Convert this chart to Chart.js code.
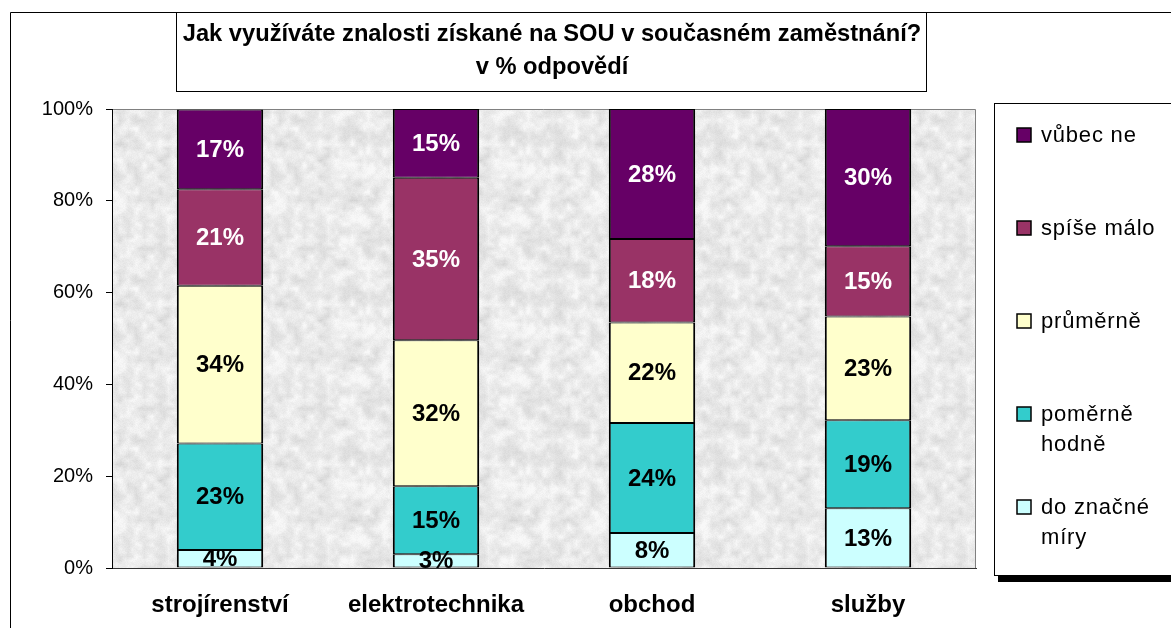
<!DOCTYPE html>
<html>
<head>
<meta charset="utf-8">
<script src="https://cdn.jsdelivr.net/npm/chart.js@4/dist/chart.umd.min.js"></script>
<style>
  body { margin: 0; background: #fff; }
  canvas { display: block; }
</style>
</head>
<body>
<canvas id="myChart" width="1171" height="628"></canvas>
<script>
// data (segment shares in %)
let categories = ['strojírenství', 'elektrotechnika', 'obchod', 'služby'];
let doZnacneMiry = [3.9, 3.0, 7.6, 13.0];
let pomerneHodne = [23.2, 14.8, 24.0, 19.2];
let prumerne = [34.4, 31.8, 21.9, 22.6];
let spiseMalo = [21.0, 35.4, 18.2, 15.3];
let vubecNe = [17.4, 15.0, 28.3, 29.9];
let yTicks = [0, 20, 40, 60, 80, 100];
let titleLines = ['Jak využíváte znalosti získané na SOU v současném zaměstnání?', 'v % odpovědí'];

let FONT = '"Liberation Sans", Arial, sans-serif';

// granite-ish texture for the plot area
let makeTexture = () => {
    let n = 160;
    let c = document.createElement('canvas');
    c.width = n; c.height = n;
    let g = c.getContext('2d');
    let img = g.createImageData(n, n);
    let h = (x, y) => {
        let s = Math.sin(x * 127.1 + y * 311.7) * 43758.5453;
        return s - Math.floor(s);
    };
    let vnoise = (x, y, cell) => {
        let m = n / cell;
        let cx = Math.floor(x / cell), cy = Math.floor(y / cell);
        let fx = (x % cell) / cell, fy = (y % cell) / cell;
        let a = h(cx % m, cy % m), b = h((cx + 1) % m, cy % m);
        let c2 = h(cx % m, (cy + 1) % m), d = h((cx + 1) % m, (cy + 1) % m);
        let top = a + (b - a) * fx, bot = c2 + (d - c2) * fx;
        return top + (bot - top) * fy;
    };
    for (let y = 0; y < n; y++) {
        for (let x = 0; x < n; x++) {
            let v = 0.55 * vnoise(x, y, 8) + 0.3 * vnoise(x, y, 4) + 0.15 * h(x, y);
            let gray = Math.round(208 + v * 52);
            if (gray > 248) gray = 248;
            let i = (y * n + x) * 4;
            img.data[i] = gray; img.data[i + 1] = gray; img.data[i + 2] = gray; img.data[i + 3] = 255;
        }
    }
    g.putImageData(img, 0, 0);
    return c;
};

let series = [
    { label: ['do značné', 'míry'], data: doZnacneMiry, color: '#CCFFFF', text: '#000' },
    { label: ['poměrně', 'hodně'], data: pomerneHodne, color: '#33CCCC', text: '#000' },
    { label: ['průměrně'], data: prumerne, color: '#FFFFCC', text: '#000' },
    { label: ['spíše málo'], data: spiseMalo, color: '#993366', text: '#fff' },
    { label: ['vůbec ne'], data: vubecNe, color: '#660066', text: '#fff' }
];

let backgroundPlugin = {
    id: 'pozadi',
    beforeDraw(chart) {
        let ctx = chart.ctx;
        let a = chart.chartArea;
        ctx.save();
        ctx.fillStyle = '#fff';
        ctx.fillRect(0, 0, chart.width, chart.height);
        // outer chart border
        ctx.strokeStyle = '#000';
        ctx.lineWidth = 1;
        ctx.beginPath();
        ctx.moveTo(10.5, chart.height + 5);
        ctx.lineTo(10.5, 12.5);
        ctx.lineTo(chart.width + 5, 12.5);
        ctx.stroke();
        // plot area texture
        ctx.fillStyle = ctx.createPattern(makeTexture(), 'repeat');
        ctx.fillRect(a.left, a.top, a.right - a.left, a.bottom - a.top);
        ctx.strokeStyle = '#808080';
        ctx.beginPath();
        ctx.moveTo(a.left, a.top + 0.5);
        ctx.lineTo(a.right - 0.5, a.top + 0.5);
        ctx.lineTo(a.right - 0.5, a.bottom);
        ctx.stroke();
        ctx.restore();
    },
    afterDatasetsDraw(chart) {
        let ctx = chart.ctx;
        ctx.save();
        ctx.font = 'bold 24px ' + FONT;
        ctx.textAlign = 'center';
        ctx.textBaseline = 'middle';
        chart.data.datasets.forEach((ds, di) => {
            let meta = chart.getDatasetMeta(di);
            meta.data.forEach((bar, i) => {
                ctx.fillStyle = series[di].text;
                ctx.fillText(Math.round(ds.data[i]) + '%', bar.x, (bar.y + bar.base) / 2 + 1);
            });
        });
        ctx.restore();
    },
    afterDraw(chart) {
        let ctx = chart.ctx;
        ctx.save();
        // title box
        ctx.fillStyle = '#fff';
        ctx.fillRect(176, 12, 750, 79);
        ctx.strokeStyle = '#000';
        ctx.lineWidth = 1;
        ctx.strokeRect(176.5, 12.5, 750, 79);
        ctx.fillStyle = '#000';
        ctx.font = 'bold 23.7px ' + FONT;
        ctx.textAlign = 'center';
        ctx.textBaseline = 'middle';
        ctx.fillText(titleLines[0], 552, 34);
        ctx.fillText(titleLines[1], 552, 67);

        // legend box with shadow
        ctx.fillStyle = '#000';
        ctx.fillRect(998, 576, 200, 6);
        ctx.fillStyle = '#fff';
        ctx.fillRect(994, 103, 200, 473);
        ctx.strokeStyle = '#000';
        ctx.strokeRect(994.5, 103.5, 200, 472);

        ctx.font = '22px ' + FONT;
        ctx.letterSpacing = '0.8px';
        ctx.textAlign = 'left';
        let y = 135;
        for (let k = series.length - 1; k >= 0; k--) {
            let s = series[k];
            ctx.fillStyle = s.color;
            ctx.fillRect(1017, y - 7, 14, 14);
            ctx.lineWidth = 1.5;
            ctx.strokeStyle = '#000';
            ctx.strokeRect(1017, y - 7, 14, 14);
            ctx.fillStyle = '#000';
            s.label.forEach((line, li) => {
                ctx.fillText(line, 1041, y + li * 30 + 1);
            });
            y += 93;
        }
        ctx.restore();
    }
};

new Chart('myChart', {
    type: 'bar',
    data: {
        labels: categories,
        datasets: series.map(s => ({
            label: s.label.join(' '),
            data: s.data,
            backgroundColor: s.color,
            borderColor: '#000',
            borderWidth: { top: 1, bottom: 1, left: 2, right: 2 },
            borderSkipped: false,
            barPercentage: 0.4,
            categoryPercentage: 1.0
        }))
    },
    options: {
        responsive: false,
        animation: false,
        devicePixelRatio: 1,
        layout: { padding: { left: 0, right: 195, top: 109, bottom: 0 } },
        plugins: {
            legend: { display: false },
            title: { display: false },
            tooltip: { enabled: false }
        },
        scales: {
            x: {
                stacked: true,
                grid: { display: false, drawTicks: false },
                border: { display: true, color: '#333', width: 1 },
                ticks: {
                    color: '#000',
                    padding: 23,
                    font: { family: FONT, size: 24, weight: 'bold' }
                },
                afterFit(scale) { scale.height = 60; }
            },
            y: {
                stacked: true,
                min: 0,
                max: 100,
                afterBuildTicks(scale) { scale.ticks = yTicks.map(v => ({ value: v })); },
                grid: { display: true, drawOnChartArea: false, drawTicks: true, tickLength: 6, color: '#000' },
                border: { display: true, color: '#000', width: 1 },
                ticks: {
                    color: '#000',
                    padding: 13,
                    font: { family: FONT, size: 20 },
                    callback: v => v + '%'
                },
                afterFit(scale) { scale.width = 112; }
            }
        }
    },
    plugins: [backgroundPlugin]
});
</script>
</body>
</html>
